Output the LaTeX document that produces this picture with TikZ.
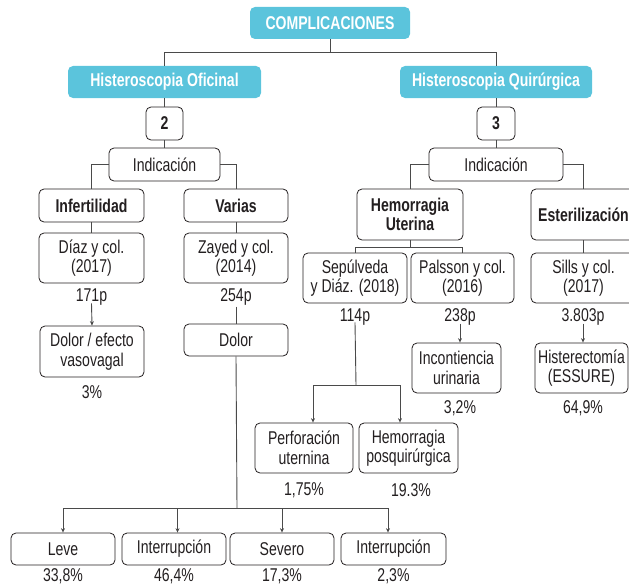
\documentclass[tikz,border=0pt]{standalone}
\usepackage{fontspec}
\setmainfont{Liberation Sans}[FakeStretch=0.76]
\usetikzlibrary{arrows.meta}
\definecolor{cyanbox}{HTML}{5BC4DC}
\definecolor{linec}{HTML}{4A4A4A}
\definecolor{textc}{HTML}{231F20}
\begin{document}
\begin{tikzpicture}[x=1pt,y=-1pt,
  every node/.style={font=\fontsize{18.5}{19.5}\selectfont, text=textc},
  cbox/.style={fill=cyanbox, rounded corners=5pt, text=white, font=\fontsize{18.5}{19.5}\selectfont\bfseries, minimum height=32, inner xsep=2pt},
  wbox/.style={draw=textc, line width=0.8pt, rounded corners=5pt, fill=white, align=center, inner xsep=2pt, inner ysep=1pt},
  bbox/.style={wbox, font=\fontsize{18.5}{19.5}\selectfont\bfseries},
  lbl/.style={inner sep=1pt},
  conn/.style={draw=linec, line width=0.9pt},
  arr/.style={conn, -{Stealth[length=4.5pt,width=4pt]}}
]
\useasboundingbox (0,0) rectangle (629,586);
% level 0-1
\node[cbox, minimum width=160] (top) at (330,23) {COMPLICACIONES};
\node[cbox, minimum width=193] (hol) at (164.5,82) {Histeroscopia Oficinal};
\node[cbox, minimum width=192] (hqu) at (496,82) {Histeroscopia Quirúrgica};
\node[bbox, minimum width=37, minimum height=33] (n2) at (164.5,123.5) {2};
\node[bbox, minimum width=38, minimum height=33] (n3) at (496,123.5) {3};
\node[wbox, minimum width=111, minimum height=33] (indL) at (164.5,164.5) {Indicación};
\node[wbox, minimum width=134, minimum height=33] (indR) at (496,164.5) {Indicación};
% indications
\node[bbox, minimum width=105, minimum height=33] (inf) at (91.5,205.5) {Infertilidad};
\node[bbox, minimum width=104, minimum height=33] (var) at (236,205.5) {Varias};
\node[bbox, minimum width=106, minimum height=51] (hem) at (410,214.5) {Hemorragia\\Uterina};
\node[bbox, minimum width=105, minimum height=51] (est) at (583.5,214.5) {Esterilización};
% studies
\node[wbox, minimum width=105, minimum height=50] (diaz) at (91.5,258) {Díaz y col.\\(2017)};
\node[wbox, minimum width=104, minimum height=50] (zay) at (236,258) {Zayed y col.\\(2014)};
\node[wbox, minimum width=104, minimum height=50] (sep) at (355,278) {Sepúlveda\\y Diáz. (2018)};
\node[wbox, minimum width=103, minimum height=50] (pal) at (462.5,278) {Palsson y col.\\(2016)};
\node[wbox, minimum width=105, minimum height=50] (sil) at (583.5,278) {Sills y col.\\(2017)};
% patient counts
\node[lbl] (p171) at (91.5,297) {171p};
\node[lbl] (p254) at (236,297) {254p};
\node[lbl] (p114) at (355,317) {114p};
\node[lbl] (p238) at (460,317) {238p};
\node[lbl] (p3803) at (583,317) {3.803p};
% outcomes
\node[wbox, minimum width=104, minimum height=51] (dol1) at (92,351.5) {Dolor / efecto\\vasovagal};
\node[wbox, minimum width=104, minimum height=32] (dol2) at (236,340) {Dolor};
\node[wbox, minimum width=89, minimum height=50] (inc) at (456.5,368) {Incontiencia\\urinaria};
\node[wbox, minimum width=93, minimum height=50] (hist) at (581.5,368) {Histerectomía\\(ESSURE)};
\node[lbl] (pc3) at (92,392) {3\%};
\node[lbl] (pc32) at (460,408) {3,2\%};
\node[lbl] (pc649) at (583,408) {64,9\%};
\node[wbox, minimum width=98, minimum height=50] (perf) at (304,448) {Perforación\\uternina};
\node[wbox, minimum width=99, minimum height=50] (hpos) at (408.5,448) {Hemorragia\\posquirúrgica};
\node[lbl] (pc175) at (304,490) {1,75\%};
\node[lbl] (pc193) at (411,490) {19.3\%};
\node[wbox, minimum width=104, minimum height=32] (leve) at (63,549) {Leve};
\node[wbox, minimum width=104, minimum height=32] (int1) at (174,549) {Interrupción};
\node[wbox, minimum width=104, minimum height=32] (sev) at (282,549) {Severo};
\node[wbox, minimum width=105, minimum height=32] (int2) at (393.5,549) {Interrupción};
\node[lbl] (pl) at (63,576.5) {33,8\%};
\node[lbl] (pi1) at (174,576.5) {46,4\%};
\node[lbl] (ps) at (282,576.5) {17,3\%};
\node[lbl] (pi2) at (393.5,576.5) {2,3\%};
% junction coordinates
\coordinate (j1) at (330,52);
\coordinate (j3) at (410,247);
\coordinate (j4) at (356,385);
\coordinate (j2) at (237,508);
% connectors
\draw[conn] (top.south) -- (j1);
\draw[conn] (j1) -| (hol.north);
\draw[conn] (j1) -| (hqu.north);
\draw[conn] (hol.south) -- (n2.north);
\draw[conn] (hqu.south) -- (n3.north);
\draw[conn] (n2.south) -- (indL.north);
\draw[conn] (n3.south) -- (indR.north);
\draw[conn] (indL.west) -| (inf.north);
\draw[conn] (indL.east) -| (var.north);
\draw[conn] (indR.west) -| (hem.north);
\draw[conn] (indR.east) -| (est.north);
\draw[conn] (inf.south) -- (diaz.north);
\draw[conn] (var.south) -- (zay.north);
\draw[conn] (hem.south) -- (j3);
\draw[conn] (j3) -| (sep.north);
\draw[conn] (j3) -| (pal.north);
\draw[conn] (est.south) -- (sil.north);
\draw[arr] ([yshift=3]p171.south) -- (dol1.north);
\draw[conn] (p254.south) -- (dol2.north);
\draw[arr] ([yshift=3]p238.south) -- ([xshift=3.5]inc.north);
\draw[arr] ([yshift=3]p3803.south) -- ([xshift=1.5]hist.north);
\draw[conn] ([yshift=4]p114.south) -- (j4);
\draw[arr] (j4) -| ([xshift=9]perf.north);
\draw[arr] (j4) -| ([xshift=-8.5]hpos.north);
\draw[conn] (dol2.south) -- (j2);
\draw[arr] (j2) -| (leve.north);
\draw[arr] (j2) -| ([xshift=3.5]int1.north);
\draw[arr] (j2) -| (sev.north);
\draw[arr] (j2) -| ([xshift=-5.5]int2.north);
\end{tikzpicture}
\end{document}
